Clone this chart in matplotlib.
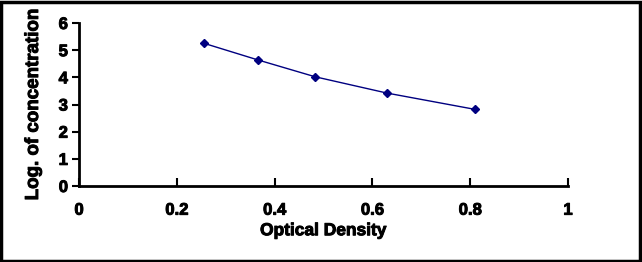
import matplotlib
matplotlib.use("Agg")
import matplotlib.pyplot as plt
from matplotlib.patches import Rectangle
import matplotlib.patheffects as pe

# standard curve values
od = [0.256, 0.366, 0.483, 0.630, 0.810]
log_conc = [5.25, 4.64, 4.02, 3.42, 2.82]
x_ticks = [0, 0.2, 0.4, 0.6, 0.8, 1]
x_tick_labels = ["0", "0.2", "0.4", "0.6", "0.8", "1"]
y_ticks = [0, 1, 2, 3, 4, 5, 6]

plt.rcParams['font.family'] = ['Liberation Sans', 'DejaVu Sans']
plt.rcParams['font.weight'] = 'bold'

fig = plt.figure(figsize=(6.42, 2.62), dpi=100)
ax = fig.add_axes([79 / 642, 76 / 262, 489 / 642, 163 / 262])

navy = '#000080'
ax.plot(od, log_conc, color=navy, lw=1.0, marker='D', ms=4.5,
        markerfacecolor=navy, markeredgecolor=navy, clip_on=False)

ax.set_xlim(0, 1)
ax.set_ylim(0, 6)
ax.set_xticks(x_ticks)
ax.set_yticks(y_ticks)

heavy = [pe.withStroke(linewidth=0.7, foreground='black')]
ax.set_xticklabels(x_tick_labels, fontweight='bold', fontsize=12, path_effects=heavy)
ax.set_yticklabels([str(v) for v in y_ticks], fontweight='bold', fontsize=12, path_effects=heavy)

for side in ('top', 'right'):
    ax.spines[side].set_visible(False)
for side in ('left', 'bottom'):
    ax.spines[side].set_linewidth(2)
    ax.spines[side].set_color('black')

ax.tick_params(axis='x', direction='in', length=6, width=1.5, pad=12)
ax.tick_params(axis='y', direction='out', length=5, width=1.5, pad=3)

ax.set_xlabel('Optical Density', fontsize=12.5, fontweight='bold', labelpad=4,
              path_effects=heavy)
ax.set_ylabel('Log. of concentration', fontsize=13.5, fontweight='bold', labelpad=12,
              path_effects=heavy)

# outer frame round the whole figure
fig.patches.append(Rectangle((0.002, 0.004), 0.995, 0.99, transform=fig.transFigure,
                             fill=False, edgecolor='black', lw=2.5))

fig.savefig('out.png', dpi=100)
